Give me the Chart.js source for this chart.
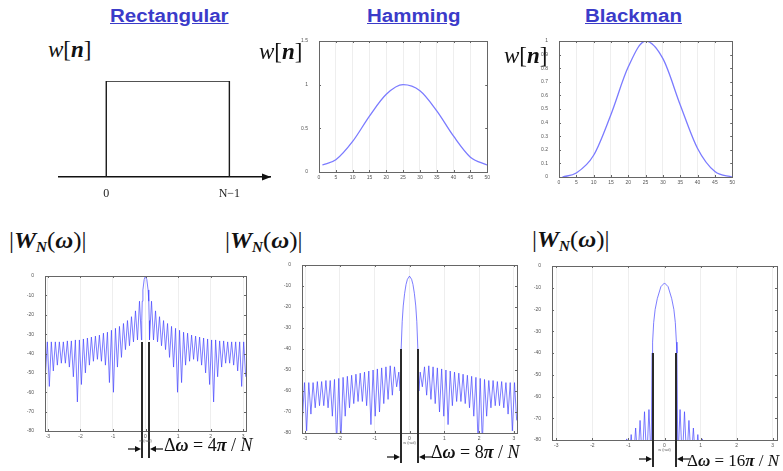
<!DOCTYPE html>
<html>
<head>
<meta charset="utf-8">
<title>Window functions</title>
<script src="https://cdn.jsdelivr.net/npm/chart.js@4.4.1/dist/chart.umd.min.js"></script>
<style>
  body { margin: 0; background: #fff; }
  #page { position: relative; width: 783px; height: 471px; overflow: hidden; }
  #page canvas { position: absolute; }
  .title { position: absolute; top: 7px; font: bold 18px 'Liberation Sans', Arial, sans-serif; line-height: 18px;
           color: #3b3bc9; text-decoration: underline; transform: scaleX(1.14); transform-origin: 0 0; white-space: nowrap; }
  .math { position: absolute; font-family: 'Liberation Serif', 'Times New Roman', serif; color: #111; white-space: nowrap; z-index: 2; }
  .wn { font-size: 23px; line-height: 23px; }
  .WN { font-size: 23px; line-height: 23px; transform: scaleX(1.08); transform-origin: 0 0; }
  .WN sub { font-size: 14px; vertical-align: -4px; }
  .dw { font-size: 18px; line-height: 18px; }
</style>
</head>
<body>
<div id="page">
  <div class="title" style="left:110px">Rectangular</div>
  <div class="title" style="left:367px">Hamming</div>
  <div class="title" style="left:585px">Blackman</div>

  <div class="math wn" style="left:48px;top:38px"><i>w</i>[<b><i>n</i></b>]</div>
  <div class="math wn" style="left:259px;top:40px"><i>w</i>[<b><i>n</i></b>]</div>
  <div class="math wn" style="left:504px;top:44px"><i>w</i>[<b><i>n</i></b>]</div>

  <div class="math WN" style="left:9px;top:229px">|<b><i>W</i></b><sub><b><i>N</i></b></sub>(<b><i>ω</i></b>)|</div>
  <div class="math WN" style="left:225px;top:229px">|<b><i>W</i></b><sub><b><i>N</i></b></sub>(<b><i>ω</i></b>)|</div>
  <div class="math WN" style="left:532px;top:228px">|<b><i>W</i></b><sub><b><i>N</i></b></sub>(<b><i>ω</i></b>)|</div>

  <div class="math dw" style="left:164px;top:436px">Δ<b><i>ω</i></b> = 4<b><i>π</i></b> / <i>N</i></div>
  <div class="math dw" style="left:431px;top:443px">Δ<b><i>ω</i></b> = 8<b><i>π</i></b> / <i>N</i></div>
  <div class="math dw" style="left:687px;top:452px;font-size:17px;line-height:17px">Δ<b><i>ω</i></b> = 16<b><i>π</i></b> / <i>N</i></div>

  <canvas id="rectTime" width="240" height="135" style="left:40px;top:70px"></canvas>
  <canvas id="hamTime" width="192" height="149" style="left:301px;top:35px"></canvas>
  <canvas id="blkTime" width="197" height="154" style="left:541px;top:35px"></canvas>
  <canvas id="rectSpec" width="223" height="201" style="left:27px;top:270px"></canvas>
  <canvas id="hamSpec" width="237" height="212" style="left:284px;top:259px"></canvas>
  <canvas id="blkSpec" width="247" height="211" style="left:534px;top:260px"></canvas>
</div>

<script>
// ---- time domain windows (sample index n)
const nPts = [1, 5, 10, 15, 20, 25, 30, 35, 40, 45, 50];
const hammingW = [0.08, 0.14, 0.35, 0.64, 0.89, 1.0, 0.93, 0.70, 0.41, 0.17, 0.08];
const blackmanW = [0.0, 0.03, 0.16, 0.46, 0.81, 1.0, 0.87, 0.53, 0.21, 0.04, 0.0];
const rectN = [0, 0, 50, 50];
const rectW = [0, 1, 1, 0];

// ---- tick labels
const rectNTicks = [0, 50];
const rectNLabels = ['0', 'N\u22121'];
const timeTicks = [0, 5, 10, 15, 20, 25, 30, 35, 40, 45, 50];
const hammingYTicks = [0, 0.5, 1, 1.5];
const blackmanYTicks = [0, 0.1, 0.2, 0.3, 0.4, 0.5, 0.6, 0.7, 0.8, 0.9, 1];
const dbTicks = [0, -10, -20, -30, -40, -50, -60, -70, -80];
const omegaTicks = [-3, -2, -1, 0, 1, 2, 3];

// ---- spectra in dB (right half, mirrored for w < 0)
const lobeStep = 0.1232; // sidelobe spacing on the w axis

const rectMainW  = [0, 0.04, 0.08, 0.1, 0.115, 0.123];
const rectMainDb = [0, -1.8, -7.2, -13, -23, -33];
const rectFirstLobe = 1;
const rectPeakDb = [-13, -18, -21, -23, -24.5, -26, -27, -28, -29, -29.5, -30.5, -31,
                    -31.5, -32, -32.5, -33, -33, -33.5, -33.5, -34, -34, -34, -34, -34];
const rectNullDb = [-33, -34, -36, -38, -42, -47, -60, -55, -46, -44, -43, -44,
                    -46, -50, -56, -65, -52, -47, -45, -45, -46, -49, -57, -52];

const hamMainW  = [0, 0.06, 0.1, 0.14, 0.18, 0.21, 0.24, 0.27];
const hamMainDb = [-5.3, -6.8, -9.3, -13.5, -19.5, -27, -40, -60];
const hamFirstLobe = 2;
const hamPeakDb = [-51, -48.5, -48, -48.5, -49, -49.5, -50, -50.5, -51, -51.5, -52, -52.5,
                   -53, -53.5, -54, -54.5, -55, -55, -55.5, -55.5, -56, -56, -56];
const hamNullDb = [-58, -62, -64, -66, -70, -72, -76, -67, -65, -65, -66, -68,
                   -72, -85, -85, -72, -68, -67, -67, -68, -71, -79, -74];

const blkMainW  = [0, 0.1, 0.2, 0.26, 0.3, 0.33, 0.345, 0.37];
const blkMainDb = [-7.8, -9.5, -15, -20, -26, -35, -40, -90];
const blkFirstLobe = 3;
const blkPeakDb = [-66, -67, -71, -74.5, -77.5, -79.5];
const blkNullDb = [-90, -90, -90, -90, -90, -90];

function spectrum(mainW, mainDb, k0, peaks, nulls) {
  const right = mainW.map((w, i) => ({ x: w, y: mainDb[i] }));
  peaks.forEach((p, i) => {
    right.push({ x: (k0 + i + 0.5) * lobeStep, y: p });
    right.push({ x: (k0 + i + 1) * lobeStep, y: nulls[i] });
  });
  const left = right.slice(1).reverse().map(p => ({ x: -p.x, y: p.y }));
  return left.concat(right);
}

function arrow(ctx, x1, x2, y) {
  const d = x2 > x1 ? 1 : -1;
  ctx.beginPath(); ctx.moveTo(x1, y); ctx.lineTo(x2 - d * 5, y); ctx.stroke();
  ctx.beginPath(); ctx.moveTo(x2, y); ctx.lineTo(x2 - d * 6, y - 3); ctx.lineTo(x2 - d * 6, y + 3);
  ctx.closePath(); ctx.fill();
}

// matlab style box with inner tick marks
const frame = {
  id: 'frame',
  afterDatasetsDraw(chart, args, o) {
    const { ctx, chartArea: a, scales: { x, y } } = chart;
    ctx.save();
    if (o.box) {
      ctx.strokeStyle = '#666'; ctx.lineWidth = 1;
      ctx.strokeRect(Math.round(a.left) + 0.5, Math.round(a.top) + 0.5, Math.round(a.width), Math.round(a.height));
      ctx.beginPath();
      x.ticks.forEach(t => {
        const px = Math.round(x.getPixelForValue(t.value)) + 0.5;
        ctx.moveTo(px, a.bottom); ctx.lineTo(px, a.bottom - 2);
        ctx.moveTo(px, a.top); ctx.lineTo(px, a.top + 2);
      });
      y.ticks.forEach(t => {
        const py = Math.round(y.getPixelForValue(t.value)) + 0.5;
        ctx.moveTo(a.left, py); ctx.lineTo(a.left + 2, py);
        ctx.moveTo(a.right, py); ctx.lineTo(a.right - 2, py);
      });
      ctx.stroke();
    }
    if (o.arrow) {
      ctx.fillStyle = '#111';
      ctx.beginPath();
      ctx.moveTo(a.right + 1, a.bottom);
      ctx.lineTo(a.right - 8, a.bottom - 3.5);
      ctx.lineTo(a.right - 8, a.bottom + 3.5);
      ctx.closePath(); ctx.fill();
    }
    ctx.restore();
  }
};

// the two bars that mark the main lobe width, plus arrows
const deltaMarks = {
  id: 'deltaMarks',
  afterDraw(chart, args, o) {
    if (!o.lines) return;
    const { ctx, chartArea: a, scales: { x, y } } = chart;
    const yTop = y.getPixelForValue(o.from);
    const [l, r] = o.lines.map(v => Math.round(x.getPixelForValue(v)));
    ctx.save();
    ctx.strokeStyle = '#2a2a2a'; ctx.lineWidth = 2;
    [l, r].forEach(px => { ctx.beginPath(); ctx.moveTo(px, yTop); ctx.lineTo(px, a.bottom + o.below); ctx.stroke(); });
    ctx.fillStyle = '#111'; ctx.strokeStyle = '#111'; ctx.lineWidth = 1.2;
    arrow(ctx, l - 14, l - 1, a.bottom + o.arrowY);
    arrow(ctx, r + 14, r + 1, a.bottom + o.arrowY);
    ctx.font = '4px "Liberation Sans"'; ctx.fillStyle = '#666'; ctx.textAlign = 'center';
    ctx.fillText('w (rad)', x.getPixelForValue(0), a.bottom + 11);
    ctx.restore();
  }
};

const tickFont = { family: 'Liberation Sans', size: 5 };
const fmt = v => String(Math.round(v * 10) / 10);

function makeChart(id, datasets, o) {
  return new Chart(document.getElementById(id), {
    type: 'line',
    data: { datasets },
    plugins: [frame, deltaMarks],
    options: {
      responsive: false,
      animation: false,
      events: [],
      layout: { padding: o.pad },
      elements: { point: { radius: 0 } },
      plugins: {
        legend: { display: false },
        tooltip: { enabled: false },
        frame: { box: !o.schematic, arrow: !!o.schematic },
        deltaMarks: o.marks || {}
      },
      scales: {
        x: {
          type: 'linear', min: o.xMin, max: o.xMax,
          afterFit: s => { s.height = o.xH; },
          afterBuildTicks: s => { s.ticks = o.xTicks.map(v => ({ value: v })); },
          grid: { display: !o.schematic, color: '#eeeeee', drawTicks: false },
          border: o.schematic ? { display: true, color: '#111', width: 1.5 } : { display: false },
          ticks: o.schematic
            ? { font: { family: 'Liberation Serif', size: 12 }, color: '#222', padding: 10,
                autoSkip: false, maxRotation: 0, callback: v => rectNLabels[rectNTicks.indexOf(v)] }
            : { font: tickFont, color: '#555', padding: 3, autoSkip: false, maxRotation: 0, callback: fmt }
        },
        y: {
          display: !o.schematic,
          min: o.yMin, max: o.yMax,
          afterFit: s => { s.width = o.yW; },
          afterBuildTicks: s => { s.ticks = o.yTicks.map(v => ({ value: v })); },
          grid: { display: false },
          border: { display: false },
          ticks: { font: tickFont, color: '#555', padding: 3, callback: fmt }
        }
      }
    }
  });
}

const blueLine = { borderColor: '#7b7bff', borderWidth: 1.3, cubicInterpolationMode: 'monotone', fill: false };
const specLine = { borderColor: 'rgba(70,70,255,0.7)', borderWidth: 1, tension: 0, fill: false };

makeChart('rectTime',
  [{ data: rectN.map((n, i) => ({ x: n, y: rectW[i] })), borderColor: '#1a1a1a', borderWidth: 1.4, tension: 0 }],
  { schematic: true, pad: { left: 19, top: 11, right: 10 }, xH: 28, yW: 0,
    xMin: -19.2, xMax: 66.5, xTicks: rectNTicks, yMin: 0, yMax: 1, yTicks: [0, 1] });

makeChart('hamTime',
  [Object.assign({ data: nPts.map((n, i) => ({ x: n, y: hammingW[i] })) }, blueLine)],
  { pad: { top: 4, right: 4 }, xH: 12, yW: 18,
    xMin: 0, xMax: 50, xTicks: timeTicks, yMin: 0, yMax: 1.5, yTicks: hammingYTicks });

makeChart('blkTime',
  [Object.assign({ data: nPts.map((n, i) => ({ x: n, y: blackmanW[i] })) }, blueLine)],
  { pad: { top: 4, right: 4 }, xH: 12, yW: 18,
    xMin: 0, xMax: 50, xTicks: timeTicks, yMin: 0, yMax: 1, yTicks: blackmanYTicks });

makeChart('rectSpec',
  [Object.assign({ data: spectrum(rectMainW, rectMainDb, rectFirstLobe, rectPeakDb, rectNullDb) }, specLine)],
  { pad: { top: 4, right: 4 }, xH: 40, yW: 18,
    xMin: -3.09, xMax: 3.09, xTicks: omegaTicks, yMin: -80, yMax: 0, yTicks: dbTicks,
    marks: { lines: [-0.11, 0.11], from: -34, below: 27, arrowY: 18 } });

makeChart('hamSpec',
  [Object.assign({ data: spectrum(hamMainW, hamMainDb, hamFirstLobe, hamPeakDb, hamNullDb) }, specLine)],
  { pad: { top: 4, right: 4 }, xH: 38, yW: 18,
    xMin: -3.09, xMax: 3.09, xTicks: omegaTicks, yMin: -80, yMax: 0, yTicks: dbTicks,
    marks: { lines: [-0.24, 0.24], from: -40, below: 30, arrowY: 24 } });

makeChart('blkSpec',
  [Object.assign({ data: spectrum(blkMainW, blkMainDb, blkFirstLobe, blkPeakDb, blkNullDb) }, specLine)],
  { pad: { top: 4, right: 4 }, xH: 31, yW: 18,
    xMin: -3.12, xMax: 3.12, xTicks: omegaTicks, yMin: -80, yMax: 0, yTicks: dbTicks,
    marks: { lines: [-0.33, 0.33], from: -40, below: 27, arrowY: 19 } });
</script>
</body>
</html>
